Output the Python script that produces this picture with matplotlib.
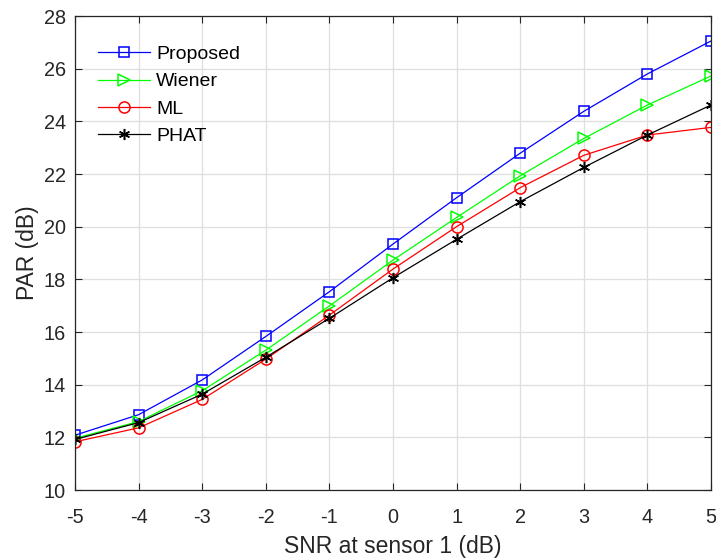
import numpy as np
import matplotlib
matplotlib.use('Agg')
import matplotlib.pyplot as plt

plt.rcParams['font.family'] = ['Liberation Sans', 'DejaVu Sans']
plt.rcParams['axes.unicode_minus'] = False

# SNR точки и значения PAR для каждого метода
snr = [-5, -4, -3, -2, -1, 0, 1, 2, 3, 4, 5]
proposed = [12.08, 12.86, 14.18, 15.83, 17.53, 19.34, 21.10, 22.79, 24.38, 25.80, 27.05]
wiener = [11.96, 12.60, 13.77, 15.31, 16.99, 18.73, 20.35, 21.93, 23.35, 24.62, 25.72]
ml = [11.83, 12.36, 13.44, 14.97, 16.64, 18.39, 20.00, 21.48, 22.71, 23.48, 23.77]
phat = [11.92, 12.56, 13.64, 15.04, 16.52, 18.06, 19.52, 20.95, 22.25, 23.48, 24.62]

fig = plt.figure(figsize=(7.16, 5.6), dpi=100)
ax = fig.add_axes([75 / 716, 1 - 490 / 560, 636 / 716, 474 / 560])

lw = 0.9
ax.plot(snr, proposed, color='#0000ff', marker='s', ms=7, mfc='none', mew=1.1, lw=lw, label='Proposed')
ax.plot(snr, wiener, color='#00ff00', marker='>', ms=8.5, mfc='none', mew=1.1, lw=lw, label='Wiener')
ax.plot(snr, ml, color='#ff0000', marker='o', ms=8, mfc='none', mew=1.1, lw=lw, label='ML')
ax.plot(snr, phat, color='black', marker=(6, 2, 0), ms=8, mew=1.1, lw=lw, label='PHAT')

ax.set_xlim(-5, 5)
ax.set_ylim(10, 28)
ax.set_xticks(np.arange(-5, 6, 1))
ax.set_yticks(np.arange(10, 29, 2))
ax.grid(True, color='#dfdfdf', lw=0.9)
ax.set_axisbelow(True)

for s in ax.spines.values():
    s.set_color('#262626')
    s.set_linewidth(0.9)
ax.tick_params(direction='in', length=5, width=0.8, color='#262626',
               top=True, right=True, labelsize=14.3, labelcolor='#262626')
ax.tick_params(axis='x', pad=13)
ax.tick_params(axis='y', pad=6.5)

ax.set_xlabel('SNR at sensor 1 (dB)', fontsize=16.5, color='#262626', labelpad=5.5)
ax.set_ylabel('PAR (dB)', fontsize=16.5, color='#262626', labelpad=3.5)

ax.legend(loc='upper left', bbox_to_anchor=(0.036, 0.938), frameon=False,
          fontsize=14, handlelength=2.7, handletextpad=0.3, labelspacing=0.5,
          borderpad=0, borderaxespad=0)

fig.savefig('out.png', dpi=100)
